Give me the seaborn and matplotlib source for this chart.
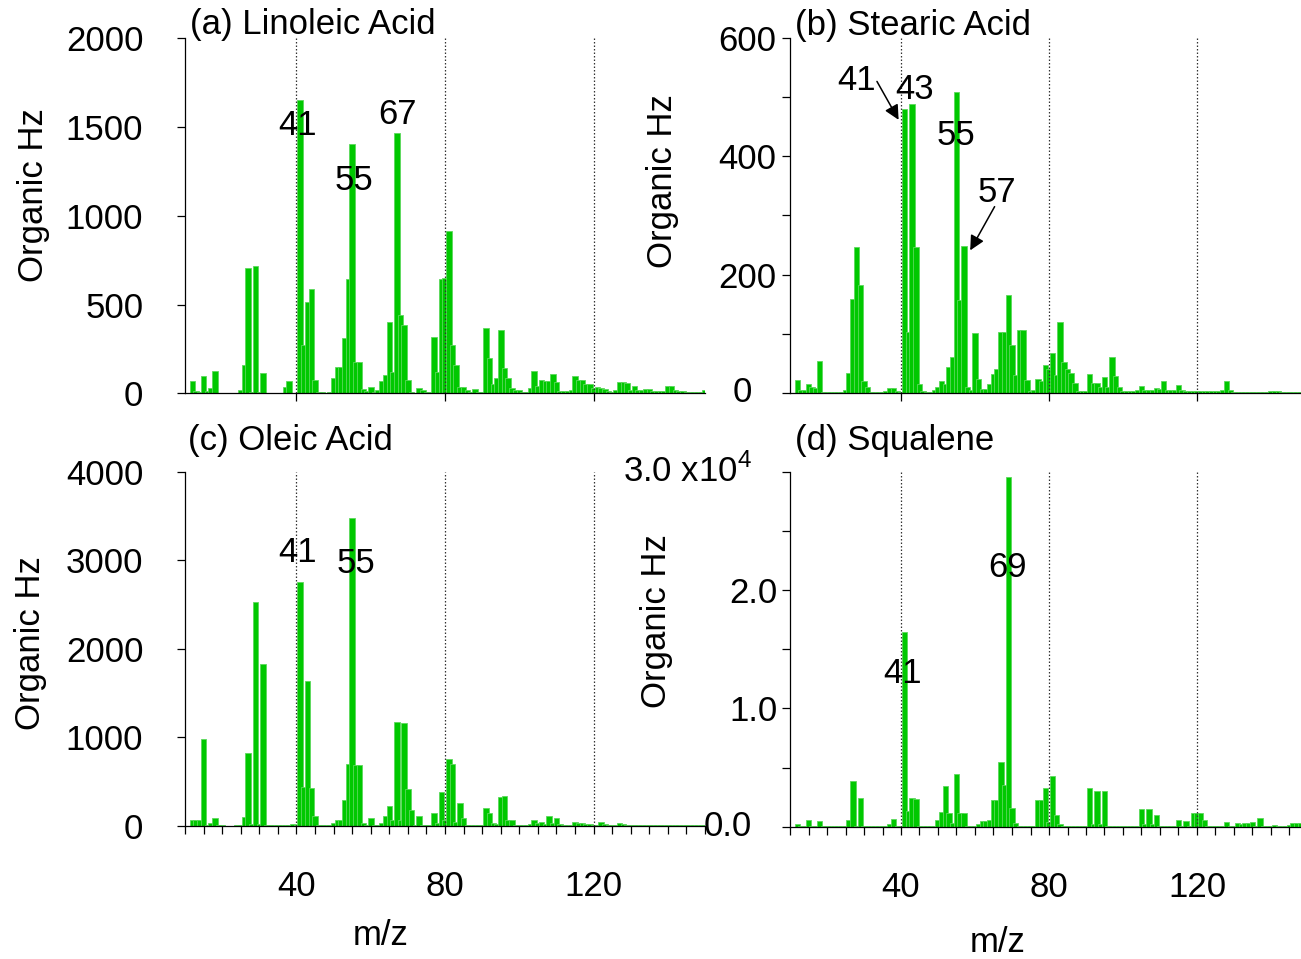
import numpy as np
import pandas as pd
import matplotlib
matplotlib.use("Agg")
import matplotlib.pyplot as plt
import matplotlib.transforms as mtransforms
from matplotlib.ticker import MultipleLocator, FixedLocator, FixedFormatter, NullFormatter
import seaborn as sns

# ---------------------------------------------------------------- data
# unit-mass spectra, m/z 12 ... 150 (organic signal, Hz)
mz = np.arange(12, 151)

linoleic_hz = [
    71, 15, 10, 97, 12, 32, 127, 4, 2, 1,
    2, 2, 4, 19, 160, 706, 10, 715, 8, 112,
    3, 2, 2, 3, 4, 34, 71, 4, 3, 1654,
    272, 515, 590, 75, 9, 9, 4, 6, 84, 150,
    150, 309, 646, 1405, 178, 178, 22, 15, 37, 10,
    20, 71, 103, 403, 122, 1465, 440, 384, 75, 10,
    4, 28, 19, 6, 8, 315, 120, 646, 650, 912,
    272, 160, 37, 37, 19, 10, 24, 10, 6, 369,
    200, 50, 84, 356, 140, 84, 28, 19, 19, 10,
    10, 28, 125, 40, 75, 71, 71, 107, 65, 13,
    12, 15, 20, 99, 75, 75, 50, 50, 30, 37,
    32, 25, 13, 10, 20, 65, 65, 56, 20, 41,
    19, 19, 24, 24, 15, 12, 12, 15, 43, 43,
    19, 15, 12, 8, 8, 6, 5, 10, 18,
]

stearic_hz = [
    21, 5, 5, 15, 10, 8, 54, 2, 2, 2,
    2, 2, 2, 5, 33, 158, 247, 182, 19, 10,
    2, 2, 2, 2, 3, 8, 8, 3, 2, 480,
    103, 489, 247, 15, 3, 2, 2, 4, 10, 19,
    15, 43, 61, 509, 157, 248, 10, 5, 101, 23,
    7, 7, 14, 32, 40, 103, 103, 166, 81, 30,
    106, 106, 21, 3, 5, 24, 20, 47, 40, 67,
    30, 120, 52, 40, 34, 17, 3, 3, 3, 31,
    17, 17, 10, 27, 10, 61, 29, 10, 3, 3,
    3, 3, 5, 11, 4, 4, 5, 8, 6, 20,
    5, 4, 5, 13, 4, 3, 3, 3, 3, 3,
    3, 3, 3, 3, 3, 5, 19, 5, 2, 2,
    2, 2, 2, 2, 2, 2, 2, 2, 3, 3,
    3, 2, 2, 2, 2, 2, 2, 2, 2,
]

oleic_hz = [
    64, 64, 64, 979, 5, 30, 90, 5, 3, 2,
    2, 2, 3, 5, 102, 817, 15, 2531, 15, 1827,
    5, 3, 3, 3, 5, 8, 10, 15, 5, 2749,
    440, 1638, 422, 109, 10, 8, 5, 8, 34, 64,
    64, 290, 697, 3472, 685, 685, 34, 10, 90, 10,
    8, 26, 109, 222, 64, 1175, 60, 1156, 410, 177,
    10, 109, 10, 8, 10, 147, 30, 377, 60, 753,
    697, 40, 252, 83, 10, 8, 8, 10, 10, 196,
    139, 30, 20, 328, 335, 60, 64, 10, 8, 10,
    8, 15, 64, 30, 45, 20, 109, 30, 83, 20,
    10, 8, 10, 45, 30, 26, 20, 15, 10, 10,
    45, 15, 10, 8, 10, 26, 15, 10, 8, 8,
    8, 8, 10, 8, 8, 8, 8, 5, 8, 5,
    5, 5, 5, 5, 5, 5, 5, 5, 5,
]

squalene_hz = [
    225, 50, 50, 563, 30, 100, 479, 30, 30, 30,
    30, 30, 30, 100, 563, 3887, 100, 2451, 30, 50,
    30, 30, 30, 30, 50, 225, 620, 50, 30, 16480,
    1352, 2451, 2310, 50, 30, 30, 30, 100, 563, 1268,
    3465, 1127, 300, 4423, 1183, 1183, 100, 40, 50, 200,
    507, 507, 563, 2254, 2254, 5493, 3521, 29580, 1549, 282,
    50, 30, 30, 40, 100, 2254, 2254, 3240, 400, 4282,
    986, 200, 50, 50, 50, 50, 50, 50, 50, 3296,
    200, 3042, 200, 3042, 50, 50, 50, 50, 50, 50,
    50, 50, 50, 1493, 200, 1493, 200, 986, 50, 50,
    50, 50, 50, 563, 100, 479, 100, 1127, 1127, 1127,
    563, 100, 50, 50, 50, 50, 423, 100, 50, 282,
    200, 282, 282, 423, 100, 704, 50, 50, 50, 141,
    100, 100, 100, 150, 282, 282, 282, 282, 100,
]

titles = ["(a) Linoleic Acid", "(b) Stearic Acid", "(c) Oleic Acid", "(d) Squalene"]

# peak labels: (text, m/z position, height position)
peak_labels_a = [("41", 40.3, 1509), ("55", 55.5, 1199), ("67", 67.3, 1571)]
peak_labels_b = [("41", 27.9, 528), ("43", 43.7, 514), ("55", 54.9, 435), ("57", 65.8, 339)]
peak_labels_c = [("41", 40.3, 3087), ("55", 55.9, 2963)]
peak_labels_d = [("41", 40.35, 12945), ("69", 68.9, 21900)]

# arrows in panel (b): (tail m/z, tail Hz, tip m/z, tip Hz)
arrows_b = [(33.5, 527, 39.35, 462), (65.3, 315, 58.7, 241)]

# ---------------------------------------------------------------- style
sns.set_theme(style="ticks")
plt.rcParams["font.family"] = ["Liberation Sans", "DejaVu Sans"]
plt.rcParams["mathtext.fontset"] = "custom"
plt.rcParams["mathtext.rm"] = "Liberation Sans"
plt.rcParams["axes.linewidth"] = 0.9
plt.rcParams["axes.edgecolor"] = "black"
plt.rcParams["text.color"] = "black"
plt.rcParams["axes.labelcolor"] = "black"
plt.rcParams["xtick.color"] = "black"
plt.rcParams["ytick.color"] = "black"

FS = 25
BAR = "#00c800"
EDGE = "#5cd85c"

fig = plt.figure(figsize=(13.01, 9.59), dpi=100)

W, H = 1301.0, 959.0


def axes_px(left, right, top, bottom):
    return fig.add_axes([left / W, 1 - bottom / H, (right - left) / W, (bottom - top) / H])


ax_a = axes_px(185, 705, 38.3, 393.3)
ax_b = axes_px(790, 1308, 38.3, 392.7)
ax_c = axes_px(185, 705, 471.7, 825.7)
ax_d = axes_px(790, 1308, 471.7, 826.7)


def draw_spectrum(ax, values):
    df = pd.DataFrame({"mz": mz, "hz": values})
    sns.histplot(data=df, x="mz", weights="hz", discrete=True, shrink=1.5,
                 color=BAR, edgecolor=EDGE, linewidth=0.6, alpha=1.0, ax=ax)
    ax.set_xlim(10, 150)
    ax.set_xlabel("")
    ax.set_ylabel("")
    sns.despine(ax=ax)
    ax.set_axisbelow(False)
    ax.xaxis.set_major_locator(FixedLocator([40, 80, 120]))
    ax.grid(axis="x", which="major", linestyle=(0, (1.2, 1.6)), color="#333333", linewidth=0.9)
    ax.grid(axis="y", visible=False)
    ax.tick_params(axis="both", which="both", direction="out", color="black",
                   width=0.9, length=6, labelsize=FS, labelcolor="black")


for ax, vals in [(ax_a, linoleic_hz), (ax_b, stearic_hz), (ax_c, oleic_hz), (ax_d, squalene_hz)]:
    draw_spectrum(ax, vals)

# ---- panel (a)
ax_a.set_ylim(0, 2000)
ax_a.yaxis.set_major_locator(MultipleLocator(500))
ax_a.tick_params(axis="y", pad=24)
ax_a.xaxis.set_major_formatter(NullFormatter())

# ---- panel (b)
ax_b.set_ylim(0, 600)
ax_b.yaxis.set_major_locator(FixedLocator([0, 200, 400, 600]))
ax_b.yaxis.set_major_formatter(FixedFormatter(["", "200", "400", "600"]))
ax_b.yaxis.set_minor_locator(MultipleLocator(100))
ax_b.tick_params(axis="y", which="both", pad=4)
ax_b.xaxis.set_major_formatter(NullFormatter())

# ---- panel (c)
ax_c.set_ylim(0, 4000)
ax_c.yaxis.set_major_locator(MultipleLocator(1000))
ax_c.tick_params(axis="y", pad=24)

# ---- panel (d)
ax_d.set_ylim(0, 30000)
ax_d.yaxis.set_major_locator(FixedLocator([0, 10000, 20000, 30000]))
ax_d.yaxis.set_major_formatter(FixedFormatter(["", "1.0", "2.0", ""]))
ax_d.yaxis.set_minor_locator(MultipleLocator(5000))
ax_d.tick_params(axis="y", which="both", pad=3)

# bottom row x axes: minor ticks every 5, labels at 40/80/120
for ax in (ax_c, ax_d):
    ax.xaxis.set_minor_locator(MultipleLocator(5))
    ax.xaxis.set_major_formatter(FixedFormatter(["40", "80", "120"]))
    ax.tick_params(axis="x", which="both", pad=26)
    ax.set_xlabel("m/z", fontsize=FS)
    ax.xaxis.label.set(va="center")
ax_c.xaxis.set_label_coords(0.377, -0.309)
ax_d.xaxis.set_label_coords(0.4015, -0.3276)

# zero / exponent labels placed beside the value axis
for ax, s, yv, xa in [(ax_b, "0", 0, -0.0734), (ax_d, "0.0", 0, -0.0734),
                      (ax_d, r"3.0 x10$^{4}$", 30000, -0.0734)]:
    tr = mtransforms.blended_transform_factory(ax.transAxes, ax.transData)
    ax.text(xa, yv, s, transform=tr, ha="right", va="center", fontsize=FS, clip_on=False)

# y labels
for ax, (xl, yl) in [(ax_a, (-0.2923, 0.5586)), (ax_b, (-0.2471, 0.5973)),
                     (ax_c, (-0.298, 0.516)), (ax_d, (-0.2568, 0.579))]:
    ax.set_ylabel("Organic Hz", fontsize=FS)
    ax.yaxis.label.set(ha="center", va="center", rotation_mode="default")
    ax.yaxis.set_label_coords(xl, yl)

# panel titles
for ax, t, (xt, yt) in zip([ax_a, ax_b, ax_c, ax_d], titles,
                           [(0.0096, 1.040), (0.0097, 1.035), (0.0058, 1.0895), (0.0097, 1.089)]):
    ax.text(xt, yt, t, transform=ax.transAxes, ha="left", va="center", fontsize=FS, clip_on=False)

# peak labels
for ax, labels in [(ax_a, peak_labels_a), (ax_b, peak_labels_b),
                   (ax_c, peak_labels_c), (ax_d, peak_labels_d)]:
    for s, x, y in labels:
        ax.text(x, y, s, ha="center", va="center", fontsize=FS, color="black", zorder=5)

for x0, y0, x1, y1 in arrows_b:
    ax_b.annotate("", xy=(x1, y1), xytext=(x0, y0),
                  arrowprops=dict(arrowstyle="-|>", color="black", lw=1.1,
                                  mutation_scale=22, shrinkA=0, shrinkB=0))

fig.savefig("out.png", dpi=100)
